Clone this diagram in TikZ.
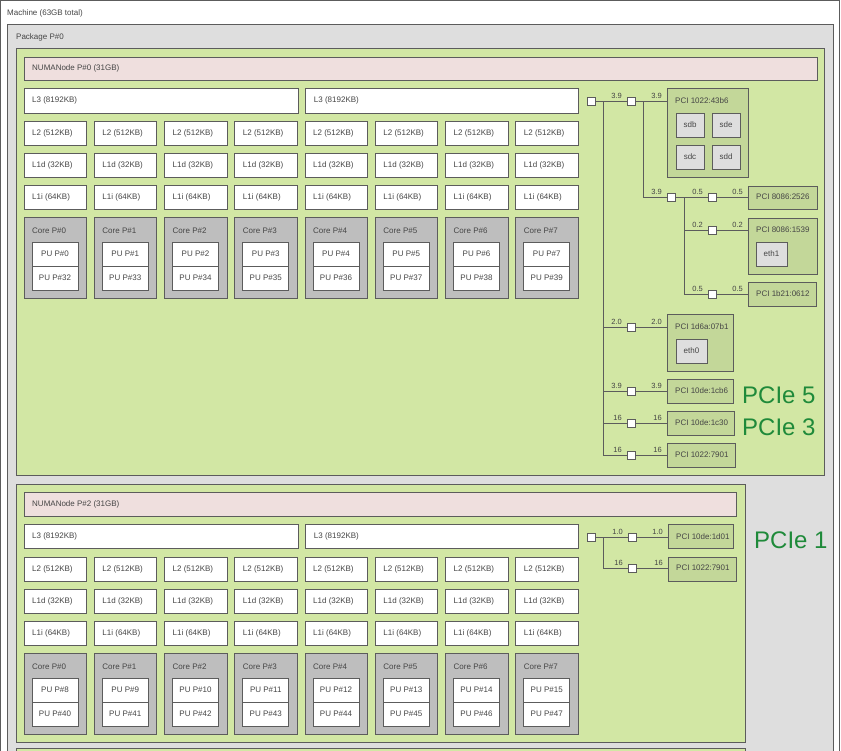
\documentclass[tikz,border=0pt]{standalone}
\usepackage{fontspec}
\setmainfont{Liberation Sans}
\usetikzlibrary{fit}
\definecolor{linec}{HTML}{5C5C5C}
\definecolor{txtc}{HTML}{454545}
\definecolor{pkgfill}{HTML}{DEDEDE}
\definecolor{grpfill}{HTML}{D2E7A4}
\definecolor{numafill}{HTML}{EFDFDE}
\definecolor{corefill}{HTML}{BEBEBE}
\definecolor{pcifill}{HTML}{C3D799}
\definecolor{osfill}{HTML}{DEDEDE}
\definecolor{pciegreen}{HTML}{1F8A3A}
\tikzset{
  frame/.style={inner sep=0pt, outer sep=0pt, draw=linec, line width=0.9pt},
  mach/.style={frame, fill=white},
  pkgs/.style={frame, fill=pkgfill},
  grps/.style={frame, fill=grpfill},
  numas/.style={frame, fill=numafill},
  cache/.style={frame, fill=white},
  cores/.style={frame, fill=corefill},
  pus/.style={frame, fill=white},
  pcis/.style={frame, fill=pcifill},
  oss/.style={frame, fill=osfill},
  ctxt/.style={font=\fontsize{8}{9}\selectfont, text=txtc, inner sep=0pt},
  lbl/.style={font=\fontsize{8}{9}\selectfont, text=txtc, inner sep=0pt, anchor=west},
  spdl/.style={font=\fontsize{7.5}{9}\selectfont, text=txtc, inner sep=0pt, anchor=base east},
  sqr/.style={draw=linec, fill=white, line width=0.9pt, minimum size=8pt, inner sep=0pt, outer sep=0pt},
  wire/.style={draw=linec, line width=0.9pt},
  pcie/.style={font=\fontsize{24}{28}\selectfont, text=pciegreen, inner sep=0pt, anchor=base west}
}
\newcommand\mkbox[6]{\node[#2, fit={(#3,#4) (#5,#6)}] (#1) {};}
\newcommand\mkboxt[7]{\node[#2, fit={(#3,#4) (#5,#6)}] (#1) {};
  \node[ctxt] (#1-t) at (#1.center) {#7};}
% square, box, speed before square, speed before box, box text
\newcommand\conn[5]{%
  \coordinate (#2-at) at (#2.west |- #1);
  \draw[wire] (#1) -- (#2-at);
  \node[spdl] (#1-s1) at ([xshift=-5pt,yshift=3pt]#1.west) {#3};
  \node[spdl] (#1-s2) at ([xshift=-5pt,yshift=3pt]#2-at) {#4};
  \node[lbl] (#2-t) at ([xshift=8pt]#2-at) {#5};}
\newcommand\cpuset[4]{%
  \foreach \i in {0,...,7}{
    \pgfmathsetmacro\xa{24+70.25*\i}
    \pgfmathsetmacro\xb{\xa+62.5}
    \pgfmathsetmacro\pxa{\xa+8}
    \pgfmathsetmacro\pxb{\xa+54}
    \pgfmathtruncatemacro\pa{#3+\i}
    \pgfmathtruncatemacro\pb{#4+\i}
    \mkbox{#1ltwo\i}{cache}{\xa}{121+#2}{\xb}{145+#2}
    \node[lbl] (#1ltwot\i) at ([xshift=8pt]#1ltwo\i.west) {L2 (512KB)};
    \mkbox{#1lod\i}{cache}{\xa}{153+#2}{\xb}{177+#2}
    \node[lbl] (#1lodt\i) at ([xshift=8pt]#1lod\i.west) {L1d (32KB)};
    \mkbox{#1loi\i}{cache}{\xa}{185+#2}{\xb}{209+#2}
    \node[lbl] (#1loit\i) at ([xshift=8pt]#1loi\i.west) {L1i (64KB)};
    \mkbox{#1core\i}{cores}{\xa}{217+#2}{\xb}{298+#2}
    \node[lbl] (#1coret\i) at (\pxa,231+#2) {Core P\#\i};
    \mkboxt{#1pua\i}{pus}{\pxa}{242+#2}{\pxb}{266+#2}{PU P\#\pa}
    \mkboxt{#1pub\i}{pus}{\pxa}{266+#2}{\pxb}{290+#2}{PU P\#\pb}
  }}
\begin{document}
\begin{tikzpicture}[x=1pt,y=-1pt]
\useasboundingbox (0,0) rectangle (841,750);
\clip (0,0) rectangle (841,750);
\fill[white] (0,0) rectangle (841,750);
\mkbox{machine}{mach}{0.5}{0.5}{839}{800}
\node[lbl] (machinet) at (7,13) {Machine (63GB total)};
\mkbox{pkg}{pkgs}{7}{24}{833}{800}
\node[lbl] (pkgt) at (16,37) {Package P\#0};
% ---------- group 1
\mkbox{grpa}{grps}{16}{48}{824}{475}
\mkbox{numaa}{numas}{24}{57}{817}{80}
\node[lbl] (numaat) at ([xshift=8pt]numaa.west) {NUMANode P\#0 (31GB)};
\mkbox{lthreea}{cache}{24}{88}{298}{113}
\node[lbl] (lthreeat) at ([xshift=8pt]lthreea.west) {L3 (8192KB)};
\mkbox{lthreeb}{cache}{305.75}{88}{578.25}{113}
\node[lbl] (lthreebt) at ([xshift=8pt]lthreeb.west) {L3 (8192KB)};
\cpuset{a}{0}{0}{32}
% PCI tree group 1
\node[sqr] (hba) at (591,101) {};
\node[sqr] (sqa) at (631,101) {};
\draw[wire] (hba) -- (sqa);
\node[spdl] (sqa-s1) at ([xshift=-5pt,yshift=3pt]sqa.west) {3.9};
\mkbox{pcia}{pcis}{667}{88}{748}{177}
\coordinate (pcia-at) at (pcia.west |- sqa);
\draw[wire] (sqa) -- (pcia-at);
\node[spdl] (sqa-s2) at ([xshift=-5pt,yshift=3pt]pcia-at) {3.9};
\node[lbl] (pciat) at ([xshift=8pt]pcia-at) {PCI 1022:43b6};
\mkboxt{sdb}{oss}{676}{113}{704}{137}{sdb}
\mkboxt{sde}{oss}{712}{113}{740}{137}{sde}
\mkboxt{sdc}{oss}{676}{145}{704}{169}{sdc}
\mkboxt{sdd}{oss}{712}{145}{740}{169}{sdd}
% second level
\coordinate (tb) at (643,101);
\node[sqr] (sqb) at (671,197) {};
\draw[wire] (tb) |- (sqb);
\node[spdl] (sqb-s1) at ([xshift=-5pt,yshift=3pt]sqb.west) {3.9};
\node[sqr] (sqc) at (712,197) {};
\draw[wire] (sqb) -- (sqc);
\mkbox{pcib}{pcis}{748}{186}{817}{209}
\conn{sqc}{pcib}{0.5}{0.5}{PCI 8086:2526}
\coordinate (tc) at (684,197);
\node[sqr] (sqd) at (712,230) {};
\draw[wire] (tc) |- (sqd);
\mkbox{pcic}{pcis}{748}{218}{817}{274}
\conn{sqd}{pcic}{0.2}{0.2}{PCI 8086:1539}
\mkboxt{ethone}{oss}{756}{242}{787}{266}{eth1}
\node[sqr] (sqe) at (712,294) {};
\draw[wire] (tc) |- (sqe);
\mkbox{pcid}{pcis}{748}{282}{816}{306}
\conn{sqe}{pcid}{0.5}{0.5}{PCI 1b21:0612}
% trunk
\coordinate (ta) at (603,101);
\node[sqr] (sqf) at (631,327) {};
\draw[wire] (ta) |- (sqf);
\mkbox{pcie}{pcis}{667}{314}{733}{371}
\conn{sqf}{pcie}{2.0}{2.0}{PCI 1d6a:07b1}
\mkboxt{ethzero}{oss}{676}{339}{707}{363}{eth0}
\node[sqr] (sqg) at (631,391) {};
\draw[wire] (ta) |- (sqg);
\mkbox{pcif}{pcis}{667}{379}{733}{403}
\conn{sqg}{pcif}{3.9}{3.9}{PCI 10de:1cb6}
\node[sqr] (sqh) at (631,423) {};
\draw[wire] (ta) |- (sqh);
\mkbox{pcig}{pcis}{667}{411}{734}{435.5}
\conn{sqh}{pcig}{16}{16}{PCI 10de:1c30}
\node[sqr] (sqi) at (631,455) {};
\draw[wire] (ta) |- (sqi);
\mkbox{pcih}{pcis}{667}{443}{735}{467}
\conn{sqi}{pcih}{16}{16}{PCI 1022:7901}
\node[pcie] (pciefive) at (742,403) {PCIe 5};
\node[pcie] (pciethree) at (742,435) {PCIe 3};
% ---------- group 2
\mkbox{grpb}{grps}{16}{484}{745}{742}
\mkbox{numab}{numas}{24}{492}{736}{516}
\node[lbl] (numabt) at ([xshift=8pt]numab.west) {NUMANode P\#2 (31GB)};
\mkbox{lthreec}{cache}{24}{524}{298}{548}
\node[lbl] (lthreect) at ([xshift=8pt]lthreec.west) {L3 (8192KB)};
\mkbox{lthreed}{cache}{305.75}{524}{578.25}{548}
\node[lbl] (lthreedt) at ([xshift=8pt]lthreed.west) {L3 (8192KB)};
\cpuset{b}{436}{8}{40}
\node[sqr] (hbb) at (591,537) {};
\node[sqr] (sqj) at (632,537) {};
\draw[wire] (hbb) -- (sqj);
\mkbox{pcii}{pcis}{668}{524}{733}{548}
\conn{sqj}{pcii}{1.0}{1.0}{PCI 10de:1d01}
\coordinate (tbb) at (603,537);
\node[sqr] (sqk) at (632,568) {};
\draw[wire] (tbb) |- (sqk);
\mkbox{pcij}{pcis}{668}{557}{736}{581}
\conn{sqk}{pcij}{16}{16}{PCI 1022:7901}
\node[pcie] (pcieone) at (754,548) {PCIe 1};
% ---------- partially visible next group
\mkbox{grpc}{grps}{16}{748.5}{745}{800}
\end{tikzpicture}
\end{document}
